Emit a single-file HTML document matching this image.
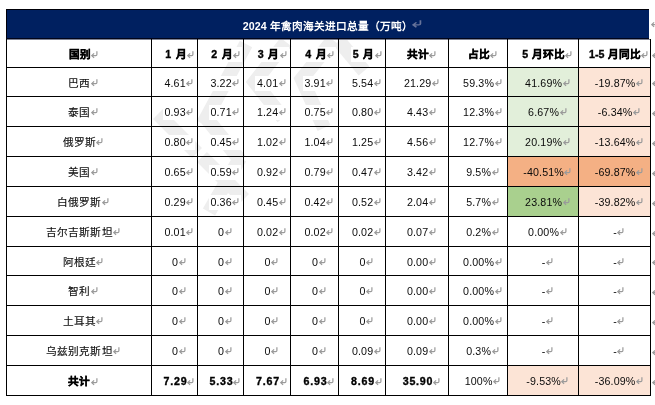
<!DOCTYPE html>
<html lang="zh-CN"><head><meta charset="utf-8"><title>table</title>
<style>
html,body{margin:0;padding:0;}
body{width:655px;height:405px;position:relative;overflow:hidden;background:#fff;font-family:"Liberation Sans",sans-serif;font-size:10.67px;color:#0a0a0a;}
.c{position:absolute;box-sizing:border-box;padding-top:8px;display:flex;align-items:flex-start;justify-content:center;white-space:nowrap;line-height:14px;}
.c span{position:relative;display:inline-block;top:0;left:0.6px;letter-spacing:0.15px;}
.c.w span::before{content:'';position:absolute;left:-1.5px;right:-9.5px;top:0;bottom:-1.3px;background:#fff;z-index:-1;}
.c{z-index:0;}
.b{font-weight:bold;}
.c.b span{top:0;left:1px;letter-spacing:0.8px;word-spacing:1.5px;-webkit-text-stroke:0.35px #000;color:#000;}
.c.b .m{margin-left:-0.3px;top:4px;}
.c.hb{padding-top:6.6px;}
.c.hb span{left:0.5px;letter-spacing:0;word-spacing:0.6px;}
.c.lz span{left:0.3px;letter-spacing:0;}
.c.lz .m{margin-left:0.3px;}
.c0 span{-webkit-text-stroke:0.12px #111;}
.c.b.c0 span{-webkit-text-stroke:0.35px #000;}
.c.mo span{left:1.5px;word-spacing:1.6px;}
.c.hb .m{margin-left:0.3px;top:4px;}
.m{position:absolute;left:100%;top:3px;margin-left:0.5px;}
.c0 span{top:-0.5px;left:0.3px;}
.c0 .m{top:3.5px;margin-left:0.3px}
.re{left:651.5px;margin:0;}
.h{position:absolute;height:1px;background:#000;}
.v{position:absolute;width:1px;background:#000;}
#t{position:absolute;left:6px;top:9px;width:643px;height:30px;background:#002060;border-top:1px solid #000008;border-left:1px solid #000008;border-bottom:1px solid #00041a;box-sizing:border-box;color:#fff;font-weight:bold;display:flex;align-items:center;justify-content:center;white-space:nowrap;}
#t span{position:relative;display:inline-block;top:1px;letter-spacing:0.04px;}
#wm{position:absolute;left:0;top:0;}
</style></head><body>
<!--WM-->
<svg id="wm" width="655" height="405" viewBox="0 0 655 405"><g fill="none" stroke="#eeeeee" stroke-width="14" stroke-linejoin="miter"><path d="M286 42L254.7 82L283 118"/><path d="M333 40L301.7 79L324 128"/><path d="M246 44L203 124"/><path d="M202 157L244 199"/><path d="M240 158L209 212"/><path d="M158 114L197 153"/><path d="M203 114L240 160"/><path d="M339 41L364 71"/></g></svg>
<div id="L" style="position:absolute;left:0;top:0;width:655px;height:405px;will-change:transform;">
<div class="c b c0 hb w" style="left:7px;top:40px;width:144px;height:27px;"><span>国别<svg class="m" width="7" height="8" viewBox="0 0 7 8"><path d="M5.9 0.3V3.5Q5.9 4.6 4.8 4.6H0.9M3.1 2.3L0.8 4.6L3.1 6.9" fill="none" stroke="#9a9a9a" stroke-width="1.2"/></svg></span></div>
<div class="c b hb mo w" style="left:152px;top:40px;width:45px;height:27px;"><span>1 月<svg class="m" width="7" height="8" viewBox="0 0 7 8"><path d="M5.9 0.3V3.5Q5.9 4.6 4.8 4.6H0.9M3.1 2.3L0.8 4.6L3.1 6.9" fill="none" stroke="#9a9a9a" stroke-width="1.2"/></svg></span></div>
<div class="c b hb mo w" style="left:198px;top:40px;width:45px;height:27px;"><span>2 月<svg class="m" width="7" height="8" viewBox="0 0 7 8"><path d="M5.9 0.3V3.5Q5.9 4.6 4.8 4.6H0.9M3.1 2.3L0.8 4.6L3.1 6.9" fill="none" stroke="#9a9a9a" stroke-width="1.2"/></svg></span></div>
<div class="c b hb mo w" style="left:244px;top:40px;width:46px;height:27px;"><span>3 月<svg class="m" width="7" height="8" viewBox="0 0 7 8"><path d="M5.9 0.3V3.5Q5.9 4.6 4.8 4.6H0.9M3.1 2.3L0.8 4.6L3.1 6.9" fill="none" stroke="#9a9a9a" stroke-width="1.2"/></svg></span></div>
<div class="c b hb mo w" style="left:291px;top:40px;width:47px;height:27px;"><span>4 月<svg class="m" width="7" height="8" viewBox="0 0 7 8"><path d="M5.9 0.3V3.5Q5.9 4.6 4.8 4.6H0.9M3.1 2.3L0.8 4.6L3.1 6.9" fill="none" stroke="#9a9a9a" stroke-width="1.2"/></svg></span></div>
<div class="c b hb mo w" style="left:339px;top:40px;width:46px;height:27px;"><span>5 月<svg class="m" width="7" height="8" viewBox="0 0 7 8"><path d="M5.9 0.3V3.5Q5.9 4.6 4.8 4.6H0.9M3.1 2.3L0.8 4.6L3.1 6.9" fill="none" stroke="#9a9a9a" stroke-width="1.2"/></svg></span></div>
<div class="c b hb w" style="left:386px;top:40px;width:62px;height:27px;"><span>共计<svg class="m" width="7" height="8" viewBox="0 0 7 8"><path d="M5.9 0.3V3.5Q5.9 4.6 4.8 4.6H0.9M3.1 2.3L0.8 4.6L3.1 6.9" fill="none" stroke="#9a9a9a" stroke-width="1.2"/></svg></span></div>
<div class="c b hb w" style="left:449px;top:40px;width:58px;height:27px;"><span>占比<svg class="m" width="7" height="8" viewBox="0 0 7 8"><path d="M5.9 0.3V3.5Q5.9 4.6 4.8 4.6H0.9M3.1 2.3L0.8 4.6L3.1 6.9" fill="none" stroke="#9a9a9a" stroke-width="1.2"/></svg></span></div>
<div class="c b hb w" style="left:508px;top:40px;width:70px;height:27px;"><span>5 月环比<svg class="m" width="7" height="8" viewBox="0 0 7 8"><path d="M5.9 0.3V3.5Q5.9 4.6 4.8 4.6H0.9M3.1 2.3L0.8 4.6L3.1 6.9" fill="none" stroke="#9a9a9a" stroke-width="1.2"/></svg></span></div>
<div class="c b hb w" style="left:579px;top:40px;width:71px;height:27px;"><span>1-5 月同比<svg class="m" width="7" height="8" viewBox="0 0 7 8"><path d="M5.9 0.3V3.5Q5.9 4.6 4.8 4.6H0.9M3.1 2.3L0.8 4.6L3.1 6.9" fill="none" stroke="#9a9a9a" stroke-width="1.2"/></svg></span></div>
<div class="c c0 w" style="left:7px;top:68px;width:144px;height:28px;"><span>巴西<svg class="m" width="7" height="8" viewBox="0 0 7 8"><path d="M5.9 0.3V3.5Q5.9 4.6 4.8 4.6H0.9M3.1 2.3L0.8 4.6L3.1 6.9" fill="none" stroke="#9a9a9a" stroke-width="1.2"/></svg></span></div>
<div class="c w" style="left:152px;top:68px;width:45px;height:28px;"><span>4.61<svg class="m" width="7" height="8" viewBox="0 0 7 8"><path d="M5.9 0.3V3.5Q5.9 4.6 4.8 4.6H0.9M3.1 2.3L0.8 4.6L3.1 6.9" fill="none" stroke="#9a9a9a" stroke-width="1.2"/></svg></span></div>
<div class="c w" style="left:198px;top:68px;width:45px;height:28px;"><span>3.22<svg class="m" width="7" height="8" viewBox="0 0 7 8"><path d="M5.9 0.3V3.5Q5.9 4.6 4.8 4.6H0.9M3.1 2.3L0.8 4.6L3.1 6.9" fill="none" stroke="#9a9a9a" stroke-width="1.2"/></svg></span></div>
<div class="c w" style="left:244px;top:68px;width:46px;height:28px;"><span>4.01<svg class="m" width="7" height="8" viewBox="0 0 7 8"><path d="M5.9 0.3V3.5Q5.9 4.6 4.8 4.6H0.9M3.1 2.3L0.8 4.6L3.1 6.9" fill="none" stroke="#9a9a9a" stroke-width="1.2"/></svg></span></div>
<div class="c w" style="left:291px;top:68px;width:47px;height:28px;"><span>3.91<svg class="m" width="7" height="8" viewBox="0 0 7 8"><path d="M5.9 0.3V3.5Q5.9 4.6 4.8 4.6H0.9M3.1 2.3L0.8 4.6L3.1 6.9" fill="none" stroke="#9a9a9a" stroke-width="1.2"/></svg></span></div>
<div class="c w" style="left:339px;top:68px;width:46px;height:28px;"><span>5.54<svg class="m" width="7" height="8" viewBox="0 0 7 8"><path d="M5.9 0.3V3.5Q5.9 4.6 4.8 4.6H0.9M3.1 2.3L0.8 4.6L3.1 6.9" fill="none" stroke="#9a9a9a" stroke-width="1.2"/></svg></span></div>
<div class="c w" style="left:386px;top:68px;width:62px;height:28px;"><span>21.29<svg class="m" width="7" height="8" viewBox="0 0 7 8"><path d="M5.9 0.3V3.5Q5.9 4.6 4.8 4.6H0.9M3.1 2.3L0.8 4.6L3.1 6.9" fill="none" stroke="#9a9a9a" stroke-width="1.2"/></svg></span></div>
<div class="c w" style="left:449px;top:68px;width:58px;height:28px;"><span>59.3%<svg class="m" width="7" height="8" viewBox="0 0 7 8"><path d="M5.9 0.3V3.5Q5.9 4.6 4.8 4.6H0.9M3.1 2.3L0.8 4.6L3.1 6.9" fill="none" stroke="#9a9a9a" stroke-width="1.2"/></svg></span></div>
<div class="c" style="left:508px;top:68px;width:70px;height:28px;background:#e2efda;"><span>41.69%<svg class="m" width="7" height="8" viewBox="0 0 7 8"><path d="M5.9 0.3V3.5Q5.9 4.6 4.8 4.6H0.9M3.1 2.3L0.8 4.6L3.1 6.9" fill="none" stroke="#9a9a9a" stroke-width="1.2"/></svg></span></div>
<div class="c" style="left:579px;top:68px;width:71px;height:28px;background:#fce4d6;"><span>-19.87%<svg class="m" width="7" height="8" viewBox="0 0 7 8"><path d="M5.9 0.3V3.5Q5.9 4.6 4.8 4.6H0.9M3.1 2.3L0.8 4.6L3.1 6.9" fill="none" stroke="#9a9a9a" stroke-width="1.2"/></svg></span></div>
<div class="c c0 w" style="left:7px;top:97px;width:144px;height:29px;"><span>泰国<svg class="m" width="7" height="8" viewBox="0 0 7 8"><path d="M5.9 0.3V3.5Q5.9 4.6 4.8 4.6H0.9M3.1 2.3L0.8 4.6L3.1 6.9" fill="none" stroke="#9a9a9a" stroke-width="1.2"/></svg></span></div>
<div class="c w" style="left:152px;top:97px;width:45px;height:29px;"><span>0.93<svg class="m" width="7" height="8" viewBox="0 0 7 8"><path d="M5.9 0.3V3.5Q5.9 4.6 4.8 4.6H0.9M3.1 2.3L0.8 4.6L3.1 6.9" fill="none" stroke="#9a9a9a" stroke-width="1.2"/></svg></span></div>
<div class="c w" style="left:198px;top:97px;width:45px;height:29px;"><span>0.71<svg class="m" width="7" height="8" viewBox="0 0 7 8"><path d="M5.9 0.3V3.5Q5.9 4.6 4.8 4.6H0.9M3.1 2.3L0.8 4.6L3.1 6.9" fill="none" stroke="#9a9a9a" stroke-width="1.2"/></svg></span></div>
<div class="c w" style="left:244px;top:97px;width:46px;height:29px;"><span>1.24<svg class="m" width="7" height="8" viewBox="0 0 7 8"><path d="M5.9 0.3V3.5Q5.9 4.6 4.8 4.6H0.9M3.1 2.3L0.8 4.6L3.1 6.9" fill="none" stroke="#9a9a9a" stroke-width="1.2"/></svg></span></div>
<div class="c w" style="left:291px;top:97px;width:47px;height:29px;"><span>0.75<svg class="m" width="7" height="8" viewBox="0 0 7 8"><path d="M5.9 0.3V3.5Q5.9 4.6 4.8 4.6H0.9M3.1 2.3L0.8 4.6L3.1 6.9" fill="none" stroke="#9a9a9a" stroke-width="1.2"/></svg></span></div>
<div class="c w" style="left:339px;top:97px;width:46px;height:29px;"><span>0.80<svg class="m" width="7" height="8" viewBox="0 0 7 8"><path d="M5.9 0.3V3.5Q5.9 4.6 4.8 4.6H0.9M3.1 2.3L0.8 4.6L3.1 6.9" fill="none" stroke="#9a9a9a" stroke-width="1.2"/></svg></span></div>
<div class="c w" style="left:386px;top:97px;width:62px;height:29px;"><span>4.43<svg class="m" width="7" height="8" viewBox="0 0 7 8"><path d="M5.9 0.3V3.5Q5.9 4.6 4.8 4.6H0.9M3.1 2.3L0.8 4.6L3.1 6.9" fill="none" stroke="#9a9a9a" stroke-width="1.2"/></svg></span></div>
<div class="c w" style="left:449px;top:97px;width:58px;height:29px;"><span>12.3%<svg class="m" width="7" height="8" viewBox="0 0 7 8"><path d="M5.9 0.3V3.5Q5.9 4.6 4.8 4.6H0.9M3.1 2.3L0.8 4.6L3.1 6.9" fill="none" stroke="#9a9a9a" stroke-width="1.2"/></svg></span></div>
<div class="c" style="left:508px;top:97px;width:70px;height:29px;background:#e2efda;"><span>6.67%<svg class="m" width="7" height="8" viewBox="0 0 7 8"><path d="M5.9 0.3V3.5Q5.9 4.6 4.8 4.6H0.9M3.1 2.3L0.8 4.6L3.1 6.9" fill="none" stroke="#9a9a9a" stroke-width="1.2"/></svg></span></div>
<div class="c" style="left:579px;top:97px;width:71px;height:29px;background:#fce4d6;"><span>-6.34%<svg class="m" width="7" height="8" viewBox="0 0 7 8"><path d="M5.9 0.3V3.5Q5.9 4.6 4.8 4.6H0.9M3.1 2.3L0.8 4.6L3.1 6.9" fill="none" stroke="#9a9a9a" stroke-width="1.2"/></svg></span></div>
<div class="c c0 w" style="left:7px;top:127px;width:144px;height:29px;"><span>俄罗斯<svg class="m" width="7" height="8" viewBox="0 0 7 8"><path d="M5.9 0.3V3.5Q5.9 4.6 4.8 4.6H0.9M3.1 2.3L0.8 4.6L3.1 6.9" fill="none" stroke="#9a9a9a" stroke-width="1.2"/></svg></span></div>
<div class="c w" style="left:152px;top:127px;width:45px;height:29px;"><span>0.80<svg class="m" width="7" height="8" viewBox="0 0 7 8"><path d="M5.9 0.3V3.5Q5.9 4.6 4.8 4.6H0.9M3.1 2.3L0.8 4.6L3.1 6.9" fill="none" stroke="#9a9a9a" stroke-width="1.2"/></svg></span></div>
<div class="c w" style="left:198px;top:127px;width:45px;height:29px;"><span>0.45<svg class="m" width="7" height="8" viewBox="0 0 7 8"><path d="M5.9 0.3V3.5Q5.9 4.6 4.8 4.6H0.9M3.1 2.3L0.8 4.6L3.1 6.9" fill="none" stroke="#9a9a9a" stroke-width="1.2"/></svg></span></div>
<div class="c w" style="left:244px;top:127px;width:46px;height:29px;"><span>1.02<svg class="m" width="7" height="8" viewBox="0 0 7 8"><path d="M5.9 0.3V3.5Q5.9 4.6 4.8 4.6H0.9M3.1 2.3L0.8 4.6L3.1 6.9" fill="none" stroke="#9a9a9a" stroke-width="1.2"/></svg></span></div>
<div class="c w" style="left:291px;top:127px;width:47px;height:29px;"><span>1.04<svg class="m" width="7" height="8" viewBox="0 0 7 8"><path d="M5.9 0.3V3.5Q5.9 4.6 4.8 4.6H0.9M3.1 2.3L0.8 4.6L3.1 6.9" fill="none" stroke="#9a9a9a" stroke-width="1.2"/></svg></span></div>
<div class="c w" style="left:339px;top:127px;width:46px;height:29px;"><span>1.25<svg class="m" width="7" height="8" viewBox="0 0 7 8"><path d="M5.9 0.3V3.5Q5.9 4.6 4.8 4.6H0.9M3.1 2.3L0.8 4.6L3.1 6.9" fill="none" stroke="#9a9a9a" stroke-width="1.2"/></svg></span></div>
<div class="c w" style="left:386px;top:127px;width:62px;height:29px;"><span>4.56<svg class="m" width="7" height="8" viewBox="0 0 7 8"><path d="M5.9 0.3V3.5Q5.9 4.6 4.8 4.6H0.9M3.1 2.3L0.8 4.6L3.1 6.9" fill="none" stroke="#9a9a9a" stroke-width="1.2"/></svg></span></div>
<div class="c w" style="left:449px;top:127px;width:58px;height:29px;"><span>12.7%<svg class="m" width="7" height="8" viewBox="0 0 7 8"><path d="M5.9 0.3V3.5Q5.9 4.6 4.8 4.6H0.9M3.1 2.3L0.8 4.6L3.1 6.9" fill="none" stroke="#9a9a9a" stroke-width="1.2"/></svg></span></div>
<div class="c" style="left:508px;top:127px;width:70px;height:29px;background:#e2efda;"><span>20.19%<svg class="m" width="7" height="8" viewBox="0 0 7 8"><path d="M5.9 0.3V3.5Q5.9 4.6 4.8 4.6H0.9M3.1 2.3L0.8 4.6L3.1 6.9" fill="none" stroke="#9a9a9a" stroke-width="1.2"/></svg></span></div>
<div class="c" style="left:579px;top:127px;width:71px;height:29px;background:#fce4d6;"><span>-13.64%<svg class="m" width="7" height="8" viewBox="0 0 7 8"><path d="M5.9 0.3V3.5Q5.9 4.6 4.8 4.6H0.9M3.1 2.3L0.8 4.6L3.1 6.9" fill="none" stroke="#9a9a9a" stroke-width="1.2"/></svg></span></div>
<div class="c c0 w" style="left:7px;top:157px;width:144px;height:29px;"><span>美国<svg class="m" width="7" height="8" viewBox="0 0 7 8"><path d="M5.9 0.3V3.5Q5.9 4.6 4.8 4.6H0.9M3.1 2.3L0.8 4.6L3.1 6.9" fill="none" stroke="#9a9a9a" stroke-width="1.2"/></svg></span></div>
<div class="c w" style="left:152px;top:157px;width:45px;height:29px;"><span>0.65<svg class="m" width="7" height="8" viewBox="0 0 7 8"><path d="M5.9 0.3V3.5Q5.9 4.6 4.8 4.6H0.9M3.1 2.3L0.8 4.6L3.1 6.9" fill="none" stroke="#9a9a9a" stroke-width="1.2"/></svg></span></div>
<div class="c w" style="left:198px;top:157px;width:45px;height:29px;"><span>0.59<svg class="m" width="7" height="8" viewBox="0 0 7 8"><path d="M5.9 0.3V3.5Q5.9 4.6 4.8 4.6H0.9M3.1 2.3L0.8 4.6L3.1 6.9" fill="none" stroke="#9a9a9a" stroke-width="1.2"/></svg></span></div>
<div class="c w" style="left:244px;top:157px;width:46px;height:29px;"><span>0.92<svg class="m" width="7" height="8" viewBox="0 0 7 8"><path d="M5.9 0.3V3.5Q5.9 4.6 4.8 4.6H0.9M3.1 2.3L0.8 4.6L3.1 6.9" fill="none" stroke="#9a9a9a" stroke-width="1.2"/></svg></span></div>
<div class="c w" style="left:291px;top:157px;width:47px;height:29px;"><span>0.79<svg class="m" width="7" height="8" viewBox="0 0 7 8"><path d="M5.9 0.3V3.5Q5.9 4.6 4.8 4.6H0.9M3.1 2.3L0.8 4.6L3.1 6.9" fill="none" stroke="#9a9a9a" stroke-width="1.2"/></svg></span></div>
<div class="c w" style="left:339px;top:157px;width:46px;height:29px;"><span>0.47<svg class="m" width="7" height="8" viewBox="0 0 7 8"><path d="M5.9 0.3V3.5Q5.9 4.6 4.8 4.6H0.9M3.1 2.3L0.8 4.6L3.1 6.9" fill="none" stroke="#9a9a9a" stroke-width="1.2"/></svg></span></div>
<div class="c w" style="left:386px;top:157px;width:62px;height:29px;"><span>3.42<svg class="m" width="7" height="8" viewBox="0 0 7 8"><path d="M5.9 0.3V3.5Q5.9 4.6 4.8 4.6H0.9M3.1 2.3L0.8 4.6L3.1 6.9" fill="none" stroke="#9a9a9a" stroke-width="1.2"/></svg></span></div>
<div class="c w" style="left:449px;top:157px;width:58px;height:29px;"><span>9.5%<svg class="m" width="7" height="8" viewBox="0 0 7 8"><path d="M5.9 0.3V3.5Q5.9 4.6 4.8 4.6H0.9M3.1 2.3L0.8 4.6L3.1 6.9" fill="none" stroke="#9a9a9a" stroke-width="1.2"/></svg></span></div>
<div class="c" style="left:508px;top:157px;width:70px;height:29px;background:#f4b084;"><span>-40.51%<svg class="m" width="7" height="8" viewBox="0 0 7 8"><path d="M5.9 0.3V3.5Q5.9 4.6 4.8 4.6H0.9M3.1 2.3L0.8 4.6L3.1 6.9" fill="none" stroke="#9a9a9a" stroke-width="1.2"/></svg></span></div>
<div class="c" style="left:579px;top:157px;width:71px;height:29px;background:#f4b084;"><span>-69.87%<svg class="m" width="7" height="8" viewBox="0 0 7 8"><path d="M5.9 0.3V3.5Q5.9 4.6 4.8 4.6H0.9M3.1 2.3L0.8 4.6L3.1 6.9" fill="none" stroke="#9a9a9a" stroke-width="1.2"/></svg></span></div>
<div class="c c0 w" style="left:7px;top:187px;width:144px;height:29px;"><span>白俄罗斯<svg class="m" width="7" height="8" viewBox="0 0 7 8"><path d="M5.9 0.3V3.5Q5.9 4.6 4.8 4.6H0.9M3.1 2.3L0.8 4.6L3.1 6.9" fill="none" stroke="#9a9a9a" stroke-width="1.2"/></svg></span></div>
<div class="c w" style="left:152px;top:187px;width:45px;height:29px;"><span>0.29<svg class="m" width="7" height="8" viewBox="0 0 7 8"><path d="M5.9 0.3V3.5Q5.9 4.6 4.8 4.6H0.9M3.1 2.3L0.8 4.6L3.1 6.9" fill="none" stroke="#9a9a9a" stroke-width="1.2"/></svg></span></div>
<div class="c w" style="left:198px;top:187px;width:45px;height:29px;"><span>0.36<svg class="m" width="7" height="8" viewBox="0 0 7 8"><path d="M5.9 0.3V3.5Q5.9 4.6 4.8 4.6H0.9M3.1 2.3L0.8 4.6L3.1 6.9" fill="none" stroke="#9a9a9a" stroke-width="1.2"/></svg></span></div>
<div class="c w" style="left:244px;top:187px;width:46px;height:29px;"><span>0.45<svg class="m" width="7" height="8" viewBox="0 0 7 8"><path d="M5.9 0.3V3.5Q5.9 4.6 4.8 4.6H0.9M3.1 2.3L0.8 4.6L3.1 6.9" fill="none" stroke="#9a9a9a" stroke-width="1.2"/></svg></span></div>
<div class="c w" style="left:291px;top:187px;width:47px;height:29px;"><span>0.42<svg class="m" width="7" height="8" viewBox="0 0 7 8"><path d="M5.9 0.3V3.5Q5.9 4.6 4.8 4.6H0.9M3.1 2.3L0.8 4.6L3.1 6.9" fill="none" stroke="#9a9a9a" stroke-width="1.2"/></svg></span></div>
<div class="c w" style="left:339px;top:187px;width:46px;height:29px;"><span>0.52<svg class="m" width="7" height="8" viewBox="0 0 7 8"><path d="M5.9 0.3V3.5Q5.9 4.6 4.8 4.6H0.9M3.1 2.3L0.8 4.6L3.1 6.9" fill="none" stroke="#9a9a9a" stroke-width="1.2"/></svg></span></div>
<div class="c w" style="left:386px;top:187px;width:62px;height:29px;"><span>2.04<svg class="m" width="7" height="8" viewBox="0 0 7 8"><path d="M5.9 0.3V3.5Q5.9 4.6 4.8 4.6H0.9M3.1 2.3L0.8 4.6L3.1 6.9" fill="none" stroke="#9a9a9a" stroke-width="1.2"/></svg></span></div>
<div class="c w" style="left:449px;top:187px;width:58px;height:29px;"><span>5.7%<svg class="m" width="7" height="8" viewBox="0 0 7 8"><path d="M5.9 0.3V3.5Q5.9 4.6 4.8 4.6H0.9M3.1 2.3L0.8 4.6L3.1 6.9" fill="none" stroke="#9a9a9a" stroke-width="1.2"/></svg></span></div>
<div class="c" style="left:508px;top:187px;width:70px;height:29px;background:#a9d08e;"><span>23.81%<svg class="m" width="7" height="8" viewBox="0 0 7 8"><path d="M5.9 0.3V3.5Q5.9 4.6 4.8 4.6H0.9M3.1 2.3L0.8 4.6L3.1 6.9" fill="none" stroke="#9a9a9a" stroke-width="1.2"/></svg></span></div>
<div class="c" style="left:579px;top:187px;width:71px;height:29px;background:#fce4d6;"><span>-39.82%<svg class="m" width="7" height="8" viewBox="0 0 7 8"><path d="M5.9 0.3V3.5Q5.9 4.6 4.8 4.6H0.9M3.1 2.3L0.8 4.6L3.1 6.9" fill="none" stroke="#9a9a9a" stroke-width="1.2"/></svg></span></div>
<div class="c c0 w" style="left:7px;top:217px;width:144px;height:29px;"><span>吉尔吉斯斯坦<svg class="m" width="7" height="8" viewBox="0 0 7 8"><path d="M5.9 0.3V3.5Q5.9 4.6 4.8 4.6H0.9M3.1 2.3L0.8 4.6L3.1 6.9" fill="none" stroke="#9a9a9a" stroke-width="1.2"/></svg></span></div>
<div class="c w" style="left:152px;top:217px;width:45px;height:29px;"><span>0.01<svg class="m" width="7" height="8" viewBox="0 0 7 8"><path d="M5.9 0.3V3.5Q5.9 4.6 4.8 4.6H0.9M3.1 2.3L0.8 4.6L3.1 6.9" fill="none" stroke="#9a9a9a" stroke-width="1.2"/></svg></span></div>
<div class="c w" style="left:198px;top:217px;width:45px;height:29px;"><span>0<svg class="m" width="7" height="8" viewBox="0 0 7 8"><path d="M5.9 0.3V3.5Q5.9 4.6 4.8 4.6H0.9M3.1 2.3L0.8 4.6L3.1 6.9" fill="none" stroke="#9a9a9a" stroke-width="1.2"/></svg></span></div>
<div class="c w" style="left:244px;top:217px;width:46px;height:29px;"><span>0.02<svg class="m" width="7" height="8" viewBox="0 0 7 8"><path d="M5.9 0.3V3.5Q5.9 4.6 4.8 4.6H0.9M3.1 2.3L0.8 4.6L3.1 6.9" fill="none" stroke="#9a9a9a" stroke-width="1.2"/></svg></span></div>
<div class="c w" style="left:291px;top:217px;width:47px;height:29px;"><span>0.02<svg class="m" width="7" height="8" viewBox="0 0 7 8"><path d="M5.9 0.3V3.5Q5.9 4.6 4.8 4.6H0.9M3.1 2.3L0.8 4.6L3.1 6.9" fill="none" stroke="#9a9a9a" stroke-width="1.2"/></svg></span></div>
<div class="c w" style="left:339px;top:217px;width:46px;height:29px;"><span>0.02<svg class="m" width="7" height="8" viewBox="0 0 7 8"><path d="M5.9 0.3V3.5Q5.9 4.6 4.8 4.6H0.9M3.1 2.3L0.8 4.6L3.1 6.9" fill="none" stroke="#9a9a9a" stroke-width="1.2"/></svg></span></div>
<div class="c w" style="left:386px;top:217px;width:62px;height:29px;"><span>0.07<svg class="m" width="7" height="8" viewBox="0 0 7 8"><path d="M5.9 0.3V3.5Q5.9 4.6 4.8 4.6H0.9M3.1 2.3L0.8 4.6L3.1 6.9" fill="none" stroke="#9a9a9a" stroke-width="1.2"/></svg></span></div>
<div class="c w" style="left:449px;top:217px;width:58px;height:29px;"><span>0.2%<svg class="m" width="7" height="8" viewBox="0 0 7 8"><path d="M5.9 0.3V3.5Q5.9 4.6 4.8 4.6H0.9M3.1 2.3L0.8 4.6L3.1 6.9" fill="none" stroke="#9a9a9a" stroke-width="1.2"/></svg></span></div>
<div class="c w" style="left:508px;top:217px;width:70px;height:29px;"><span>0.00%<svg class="m" width="7" height="8" viewBox="0 0 7 8"><path d="M5.9 0.3V3.5Q5.9 4.6 4.8 4.6H0.9M3.1 2.3L0.8 4.6L3.1 6.9" fill="none" stroke="#9a9a9a" stroke-width="1.2"/></svg></span></div>
<div class="c w" style="left:579px;top:217px;width:71px;height:29px;"><span>-<svg class="m" width="7" height="8" viewBox="0 0 7 8"><path d="M5.9 0.3V3.5Q5.9 4.6 4.8 4.6H0.9M3.1 2.3L0.8 4.6L3.1 6.9" fill="none" stroke="#9a9a9a" stroke-width="1.2"/></svg></span></div>
<div class="c c0 w" style="left:7px;top:247px;width:144px;height:28px;"><span>阿根廷<svg class="m" width="7" height="8" viewBox="0 0 7 8"><path d="M5.9 0.3V3.5Q5.9 4.6 4.8 4.6H0.9M3.1 2.3L0.8 4.6L3.1 6.9" fill="none" stroke="#9a9a9a" stroke-width="1.2"/></svg></span></div>
<div class="c w" style="left:152px;top:247px;width:45px;height:28px;"><span>0<svg class="m" width="7" height="8" viewBox="0 0 7 8"><path d="M5.9 0.3V3.5Q5.9 4.6 4.8 4.6H0.9M3.1 2.3L0.8 4.6L3.1 6.9" fill="none" stroke="#9a9a9a" stroke-width="1.2"/></svg></span></div>
<div class="c w" style="left:198px;top:247px;width:45px;height:28px;"><span>0<svg class="m" width="7" height="8" viewBox="0 0 7 8"><path d="M5.9 0.3V3.5Q5.9 4.6 4.8 4.6H0.9M3.1 2.3L0.8 4.6L3.1 6.9" fill="none" stroke="#9a9a9a" stroke-width="1.2"/></svg></span></div>
<div class="c w" style="left:244px;top:247px;width:46px;height:28px;"><span>0<svg class="m" width="7" height="8" viewBox="0 0 7 8"><path d="M5.9 0.3V3.5Q5.9 4.6 4.8 4.6H0.9M3.1 2.3L0.8 4.6L3.1 6.9" fill="none" stroke="#9a9a9a" stroke-width="1.2"/></svg></span></div>
<div class="c w" style="left:291px;top:247px;width:47px;height:28px;"><span>0<svg class="m" width="7" height="8" viewBox="0 0 7 8"><path d="M5.9 0.3V3.5Q5.9 4.6 4.8 4.6H0.9M3.1 2.3L0.8 4.6L3.1 6.9" fill="none" stroke="#9a9a9a" stroke-width="1.2"/></svg></span></div>
<div class="c w" style="left:339px;top:247px;width:46px;height:28px;"><span>0<svg class="m" width="7" height="8" viewBox="0 0 7 8"><path d="M5.9 0.3V3.5Q5.9 4.6 4.8 4.6H0.9M3.1 2.3L0.8 4.6L3.1 6.9" fill="none" stroke="#9a9a9a" stroke-width="1.2"/></svg></span></div>
<div class="c w" style="left:386px;top:247px;width:62px;height:28px;"><span>0.00<svg class="m" width="7" height="8" viewBox="0 0 7 8"><path d="M5.9 0.3V3.5Q5.9 4.6 4.8 4.6H0.9M3.1 2.3L0.8 4.6L3.1 6.9" fill="none" stroke="#9a9a9a" stroke-width="1.2"/></svg></span></div>
<div class="c w" style="left:449px;top:247px;width:58px;height:28px;"><span>0.00%<svg class="m" width="7" height="8" viewBox="0 0 7 8"><path d="M5.9 0.3V3.5Q5.9 4.6 4.8 4.6H0.9M3.1 2.3L0.8 4.6L3.1 6.9" fill="none" stroke="#9a9a9a" stroke-width="1.2"/></svg></span></div>
<div class="c w" style="left:508px;top:247px;width:70px;height:28px;"><span>-<svg class="m" width="7" height="8" viewBox="0 0 7 8"><path d="M5.9 0.3V3.5Q5.9 4.6 4.8 4.6H0.9M3.1 2.3L0.8 4.6L3.1 6.9" fill="none" stroke="#9a9a9a" stroke-width="1.2"/></svg></span></div>
<div class="c w" style="left:579px;top:247px;width:71px;height:28px;"><span>-<svg class="m" width="7" height="8" viewBox="0 0 7 8"><path d="M5.9 0.3V3.5Q5.9 4.6 4.8 4.6H0.9M3.1 2.3L0.8 4.6L3.1 6.9" fill="none" stroke="#9a9a9a" stroke-width="1.2"/></svg></span></div>
<div class="c c0 w" style="left:7px;top:276px;width:144px;height:29px;"><span>智利<svg class="m" width="7" height="8" viewBox="0 0 7 8"><path d="M5.9 0.3V3.5Q5.9 4.6 4.8 4.6H0.9M3.1 2.3L0.8 4.6L3.1 6.9" fill="none" stroke="#9a9a9a" stroke-width="1.2"/></svg></span></div>
<div class="c w" style="left:152px;top:276px;width:45px;height:29px;"><span>0<svg class="m" width="7" height="8" viewBox="0 0 7 8"><path d="M5.9 0.3V3.5Q5.9 4.6 4.8 4.6H0.9M3.1 2.3L0.8 4.6L3.1 6.9" fill="none" stroke="#9a9a9a" stroke-width="1.2"/></svg></span></div>
<div class="c w" style="left:198px;top:276px;width:45px;height:29px;"><span>0<svg class="m" width="7" height="8" viewBox="0 0 7 8"><path d="M5.9 0.3V3.5Q5.9 4.6 4.8 4.6H0.9M3.1 2.3L0.8 4.6L3.1 6.9" fill="none" stroke="#9a9a9a" stroke-width="1.2"/></svg></span></div>
<div class="c w" style="left:244px;top:276px;width:46px;height:29px;"><span>0<svg class="m" width="7" height="8" viewBox="0 0 7 8"><path d="M5.9 0.3V3.5Q5.9 4.6 4.8 4.6H0.9M3.1 2.3L0.8 4.6L3.1 6.9" fill="none" stroke="#9a9a9a" stroke-width="1.2"/></svg></span></div>
<div class="c w" style="left:291px;top:276px;width:47px;height:29px;"><span>0<svg class="m" width="7" height="8" viewBox="0 0 7 8"><path d="M5.9 0.3V3.5Q5.9 4.6 4.8 4.6H0.9M3.1 2.3L0.8 4.6L3.1 6.9" fill="none" stroke="#9a9a9a" stroke-width="1.2"/></svg></span></div>
<div class="c w" style="left:339px;top:276px;width:46px;height:29px;"><span>0<svg class="m" width="7" height="8" viewBox="0 0 7 8"><path d="M5.9 0.3V3.5Q5.9 4.6 4.8 4.6H0.9M3.1 2.3L0.8 4.6L3.1 6.9" fill="none" stroke="#9a9a9a" stroke-width="1.2"/></svg></span></div>
<div class="c w" style="left:386px;top:276px;width:62px;height:29px;"><span>0.00<svg class="m" width="7" height="8" viewBox="0 0 7 8"><path d="M5.9 0.3V3.5Q5.9 4.6 4.8 4.6H0.9M3.1 2.3L0.8 4.6L3.1 6.9" fill="none" stroke="#9a9a9a" stroke-width="1.2"/></svg></span></div>
<div class="c w" style="left:449px;top:276px;width:58px;height:29px;"><span>0.00%<svg class="m" width="7" height="8" viewBox="0 0 7 8"><path d="M5.9 0.3V3.5Q5.9 4.6 4.8 4.6H0.9M3.1 2.3L0.8 4.6L3.1 6.9" fill="none" stroke="#9a9a9a" stroke-width="1.2"/></svg></span></div>
<div class="c w" style="left:508px;top:276px;width:70px;height:29px;"><span>-<svg class="m" width="7" height="8" viewBox="0 0 7 8"><path d="M5.9 0.3V3.5Q5.9 4.6 4.8 4.6H0.9M3.1 2.3L0.8 4.6L3.1 6.9" fill="none" stroke="#9a9a9a" stroke-width="1.2"/></svg></span></div>
<div class="c w" style="left:579px;top:276px;width:71px;height:29px;"><span>-<svg class="m" width="7" height="8" viewBox="0 0 7 8"><path d="M5.9 0.3V3.5Q5.9 4.6 4.8 4.6H0.9M3.1 2.3L0.8 4.6L3.1 6.9" fill="none" stroke="#9a9a9a" stroke-width="1.2"/></svg></span></div>
<div class="c c0 w" style="left:7px;top:306px;width:144px;height:29px;"><span>土耳其<svg class="m" width="7" height="8" viewBox="0 0 7 8"><path d="M5.9 0.3V3.5Q5.9 4.6 4.8 4.6H0.9M3.1 2.3L0.8 4.6L3.1 6.9" fill="none" stroke="#9a9a9a" stroke-width="1.2"/></svg></span></div>
<div class="c w" style="left:152px;top:306px;width:45px;height:29px;"><span>0<svg class="m" width="7" height="8" viewBox="0 0 7 8"><path d="M5.9 0.3V3.5Q5.9 4.6 4.8 4.6H0.9M3.1 2.3L0.8 4.6L3.1 6.9" fill="none" stroke="#9a9a9a" stroke-width="1.2"/></svg></span></div>
<div class="c w" style="left:198px;top:306px;width:45px;height:29px;"><span>0<svg class="m" width="7" height="8" viewBox="0 0 7 8"><path d="M5.9 0.3V3.5Q5.9 4.6 4.8 4.6H0.9M3.1 2.3L0.8 4.6L3.1 6.9" fill="none" stroke="#9a9a9a" stroke-width="1.2"/></svg></span></div>
<div class="c w" style="left:244px;top:306px;width:46px;height:29px;"><span>0<svg class="m" width="7" height="8" viewBox="0 0 7 8"><path d="M5.9 0.3V3.5Q5.9 4.6 4.8 4.6H0.9M3.1 2.3L0.8 4.6L3.1 6.9" fill="none" stroke="#9a9a9a" stroke-width="1.2"/></svg></span></div>
<div class="c w" style="left:291px;top:306px;width:47px;height:29px;"><span>0<svg class="m" width="7" height="8" viewBox="0 0 7 8"><path d="M5.9 0.3V3.5Q5.9 4.6 4.8 4.6H0.9M3.1 2.3L0.8 4.6L3.1 6.9" fill="none" stroke="#9a9a9a" stroke-width="1.2"/></svg></span></div>
<div class="c w" style="left:339px;top:306px;width:46px;height:29px;"><span>0<svg class="m" width="7" height="8" viewBox="0 0 7 8"><path d="M5.9 0.3V3.5Q5.9 4.6 4.8 4.6H0.9M3.1 2.3L0.8 4.6L3.1 6.9" fill="none" stroke="#9a9a9a" stroke-width="1.2"/></svg></span></div>
<div class="c w" style="left:386px;top:306px;width:62px;height:29px;"><span>0.00<svg class="m" width="7" height="8" viewBox="0 0 7 8"><path d="M5.9 0.3V3.5Q5.9 4.6 4.8 4.6H0.9M3.1 2.3L0.8 4.6L3.1 6.9" fill="none" stroke="#9a9a9a" stroke-width="1.2"/></svg></span></div>
<div class="c w" style="left:449px;top:306px;width:58px;height:29px;"><span>0.00%<svg class="m" width="7" height="8" viewBox="0 0 7 8"><path d="M5.9 0.3V3.5Q5.9 4.6 4.8 4.6H0.9M3.1 2.3L0.8 4.6L3.1 6.9" fill="none" stroke="#9a9a9a" stroke-width="1.2"/></svg></span></div>
<div class="c w" style="left:508px;top:306px;width:70px;height:29px;"><span>-<svg class="m" width="7" height="8" viewBox="0 0 7 8"><path d="M5.9 0.3V3.5Q5.9 4.6 4.8 4.6H0.9M3.1 2.3L0.8 4.6L3.1 6.9" fill="none" stroke="#9a9a9a" stroke-width="1.2"/></svg></span></div>
<div class="c w" style="left:579px;top:306px;width:71px;height:29px;"><span>-<svg class="m" width="7" height="8" viewBox="0 0 7 8"><path d="M5.9 0.3V3.5Q5.9 4.6 4.8 4.6H0.9M3.1 2.3L0.8 4.6L3.1 6.9" fill="none" stroke="#9a9a9a" stroke-width="1.2"/></svg></span></div>
<div class="c c0 w" style="left:7px;top:336px;width:144px;height:29px;"><span>乌兹别克斯坦<svg class="m" width="7" height="8" viewBox="0 0 7 8"><path d="M5.9 0.3V3.5Q5.9 4.6 4.8 4.6H0.9M3.1 2.3L0.8 4.6L3.1 6.9" fill="none" stroke="#9a9a9a" stroke-width="1.2"/></svg></span></div>
<div class="c w" style="left:152px;top:336px;width:45px;height:29px;"><span>0<svg class="m" width="7" height="8" viewBox="0 0 7 8"><path d="M5.9 0.3V3.5Q5.9 4.6 4.8 4.6H0.9M3.1 2.3L0.8 4.6L3.1 6.9" fill="none" stroke="#9a9a9a" stroke-width="1.2"/></svg></span></div>
<div class="c w" style="left:198px;top:336px;width:45px;height:29px;"><span>0<svg class="m" width="7" height="8" viewBox="0 0 7 8"><path d="M5.9 0.3V3.5Q5.9 4.6 4.8 4.6H0.9M3.1 2.3L0.8 4.6L3.1 6.9" fill="none" stroke="#9a9a9a" stroke-width="1.2"/></svg></span></div>
<div class="c w" style="left:244px;top:336px;width:46px;height:29px;"><span>0<svg class="m" width="7" height="8" viewBox="0 0 7 8"><path d="M5.9 0.3V3.5Q5.9 4.6 4.8 4.6H0.9M3.1 2.3L0.8 4.6L3.1 6.9" fill="none" stroke="#9a9a9a" stroke-width="1.2"/></svg></span></div>
<div class="c w" style="left:291px;top:336px;width:47px;height:29px;"><span>0<svg class="m" width="7" height="8" viewBox="0 0 7 8"><path d="M5.9 0.3V3.5Q5.9 4.6 4.8 4.6H0.9M3.1 2.3L0.8 4.6L3.1 6.9" fill="none" stroke="#9a9a9a" stroke-width="1.2"/></svg></span></div>
<div class="c w" style="left:339px;top:336px;width:46px;height:29px;"><span>0.09<svg class="m" width="7" height="8" viewBox="0 0 7 8"><path d="M5.9 0.3V3.5Q5.9 4.6 4.8 4.6H0.9M3.1 2.3L0.8 4.6L3.1 6.9" fill="none" stroke="#9a9a9a" stroke-width="1.2"/></svg></span></div>
<div class="c w" style="left:386px;top:336px;width:62px;height:29px;"><span>0.09<svg class="m" width="7" height="8" viewBox="0 0 7 8"><path d="M5.9 0.3V3.5Q5.9 4.6 4.8 4.6H0.9M3.1 2.3L0.8 4.6L3.1 6.9" fill="none" stroke="#9a9a9a" stroke-width="1.2"/></svg></span></div>
<div class="c w" style="left:449px;top:336px;width:58px;height:29px;"><span>0.3%<svg class="m" width="7" height="8" viewBox="0 0 7 8"><path d="M5.9 0.3V3.5Q5.9 4.6 4.8 4.6H0.9M3.1 2.3L0.8 4.6L3.1 6.9" fill="none" stroke="#9a9a9a" stroke-width="1.2"/></svg></span></div>
<div class="c w" style="left:508px;top:336px;width:70px;height:29px;"><span>-<svg class="m" width="7" height="8" viewBox="0 0 7 8"><path d="M5.9 0.3V3.5Q5.9 4.6 4.8 4.6H0.9M3.1 2.3L0.8 4.6L3.1 6.9" fill="none" stroke="#9a9a9a" stroke-width="1.2"/></svg></span></div>
<div class="c w" style="left:579px;top:336px;width:71px;height:29px;"><span>-<svg class="m" width="7" height="8" viewBox="0 0 7 8"><path d="M5.9 0.3V3.5Q5.9 4.6 4.8 4.6H0.9M3.1 2.3L0.8 4.6L3.1 6.9" fill="none" stroke="#9a9a9a" stroke-width="1.2"/></svg></span></div>
<div class="c b c0 lz w" style="left:7px;top:366px;width:144px;height:29px;"><span>共计<svg class="m" width="7" height="8" viewBox="0 0 7 8"><path d="M5.9 0.3V3.5Q5.9 4.6 4.8 4.6H0.9M3.1 2.3L0.8 4.6L3.1 6.9" fill="none" stroke="#9a9a9a" stroke-width="1.2"/></svg></span></div>
<div class="c b w" style="left:152px;top:366px;width:45px;height:29px;"><span>7.29<svg class="m" width="7" height="8" viewBox="0 0 7 8"><path d="M5.9 0.3V3.5Q5.9 4.6 4.8 4.6H0.9M3.1 2.3L0.8 4.6L3.1 6.9" fill="none" stroke="#9a9a9a" stroke-width="1.2"/></svg></span></div>
<div class="c b w" style="left:198px;top:366px;width:45px;height:29px;"><span>5.33<svg class="m" width="7" height="8" viewBox="0 0 7 8"><path d="M5.9 0.3V3.5Q5.9 4.6 4.8 4.6H0.9M3.1 2.3L0.8 4.6L3.1 6.9" fill="none" stroke="#9a9a9a" stroke-width="1.2"/></svg></span></div>
<div class="c b w" style="left:244px;top:366px;width:46px;height:29px;"><span>7.67<svg class="m" width="7" height="8" viewBox="0 0 7 8"><path d="M5.9 0.3V3.5Q5.9 4.6 4.8 4.6H0.9M3.1 2.3L0.8 4.6L3.1 6.9" fill="none" stroke="#9a9a9a" stroke-width="1.2"/></svg></span></div>
<div class="c b w" style="left:291px;top:366px;width:47px;height:29px;"><span>6.93<svg class="m" width="7" height="8" viewBox="0 0 7 8"><path d="M5.9 0.3V3.5Q5.9 4.6 4.8 4.6H0.9M3.1 2.3L0.8 4.6L3.1 6.9" fill="none" stroke="#9a9a9a" stroke-width="1.2"/></svg></span></div>
<div class="c b w" style="left:339px;top:366px;width:46px;height:29px;"><span>8.69<svg class="m" width="7" height="8" viewBox="0 0 7 8"><path d="M5.9 0.3V3.5Q5.9 4.6 4.8 4.6H0.9M3.1 2.3L0.8 4.6L3.1 6.9" fill="none" stroke="#9a9a9a" stroke-width="1.2"/></svg></span></div>
<div class="c b w" style="left:386px;top:366px;width:62px;height:29px;"><span>35.90<svg class="m" width="7" height="8" viewBox="0 0 7 8"><path d="M5.9 0.3V3.5Q5.9 4.6 4.8 4.6H0.9M3.1 2.3L0.8 4.6L3.1 6.9" fill="none" stroke="#9a9a9a" stroke-width="1.2"/></svg></span></div>
<div class="c w" style="left:449px;top:366px;width:58px;height:29px;"><span>100%<svg class="m" width="7" height="8" viewBox="0 0 7 8"><path d="M5.9 0.3V3.5Q5.9 4.6 4.8 4.6H0.9M3.1 2.3L0.8 4.6L3.1 6.9" fill="none" stroke="#9a9a9a" stroke-width="1.2"/></svg></span></div>
<div class="c" style="left:508px;top:366px;width:70px;height:29px;background:#fce4d6;"><span>-9.53%<svg class="m" width="7" height="8" viewBox="0 0 7 8"><path d="M5.9 0.3V3.5Q5.9 4.6 4.8 4.6H0.9M3.1 2.3L0.8 4.6L3.1 6.9" fill="none" stroke="#9a9a9a" stroke-width="1.2"/></svg></span></div>
<div class="c" style="left:579px;top:366px;width:71px;height:29px;background:#fce4d6;"><span>-36.09%<svg class="m" width="7" height="8" viewBox="0 0 7 8"><path d="M5.9 0.3V3.5Q5.9 4.6 4.8 4.6H0.9M3.1 2.3L0.8 4.6L3.1 6.9" fill="none" stroke="#9a9a9a" stroke-width="1.2"/></svg></span></div>
<div class="h" style="left:6px;top:39px;width:644px;background:#7d8192"></div>
<div class="h" style="left:6px;top:67px;width:645px"></div>
<div class="h" style="left:6px;top:96px;width:645px"></div>
<div class="h" style="left:6px;top:126px;width:645px"></div>
<div class="h" style="left:6px;top:156px;width:645px"></div>
<div class="h" style="left:6px;top:186px;width:645px"></div>
<div class="h" style="left:6px;top:216px;width:645px"></div>
<div class="h" style="left:6px;top:246px;width:645px"></div>
<div class="h" style="left:6px;top:275px;width:645px"></div>
<div class="h" style="left:6px;top:305px;width:645px"></div>
<div class="h" style="left:6px;top:335px;width:645px"></div>
<div class="h" style="left:6px;top:365px;width:645px"></div>
<div class="h" style="left:6px;top:395px;width:645px"></div>
<div class="v" style="left:6px;top:39px;height:357px"></div>
<div class="v" style="left:151px;top:39px;height:357px"></div>
<div class="v" style="left:197px;top:39px;height:357px"></div>
<div class="v" style="left:243px;top:39px;height:357px"></div>
<div class="v" style="left:290px;top:39px;height:357px"></div>
<div class="v" style="left:338px;top:39px;height:357px"></div>
<div class="v" style="left:385px;top:39px;height:357px"></div>
<div class="v" style="left:448px;top:39px;height:357px"></div>
<div class="v" style="left:507px;top:39px;height:357px"></div>
<div class="v" style="left:578px;top:39px;height:357px"></div>
<div class="v" style="left:650px;top:39px;height:357px"></div>
<div id="t"><span>2024 年禽肉海关进口总量（万吨）<svg class="m" width="10" height="8.4" preserveAspectRatio="none" style="margin-left:-1.4px;top:2.4px" viewBox="0 0 7 8"><path d="M5.9 0.3V3.5Q5.9 4.6 4.8 4.6H0.9M3.1 2.3L0.8 4.6L3.1 6.9" fill="none" stroke="#66739a" stroke-width="1.2"/></svg></span></div>
<svg style="top:19.5px;left:650.8px" class="m re" width="7" height="8" viewBox="0 0 7 8"><path d="M5.9 0.3V3.5Q5.9 4.6 4.8 4.6H0.9M3.1 2.3L0.8 4.6L3.1 6.9" fill="none" stroke="#9a9a9a" stroke-width="1.2"/></svg><svg style="top:50.5px" class="m re" width="7" height="8" viewBox="0 0 7 8"><path d="M5.9 0.3V3.5Q5.9 4.6 4.8 4.6H0.9M3.1 2.3L0.8 4.6L3.1 6.9" fill="none" stroke="#9a9a9a" stroke-width="1.2"/></svg><svg style="top:79.0px" class="m re" width="7" height="8" viewBox="0 0 7 8"><path d="M5.9 0.3V3.5Q5.9 4.6 4.8 4.6H0.9M3.1 2.3L0.8 4.6L3.1 6.9" fill="none" stroke="#9a9a9a" stroke-width="1.2"/></svg><svg style="top:108.5px" class="m re" width="7" height="8" viewBox="0 0 7 8"><path d="M5.9 0.3V3.5Q5.9 4.6 4.8 4.6H0.9M3.1 2.3L0.8 4.6L3.1 6.9" fill="none" stroke="#9a9a9a" stroke-width="1.2"/></svg><svg style="top:138.5px" class="m re" width="7" height="8" viewBox="0 0 7 8"><path d="M5.9 0.3V3.5Q5.9 4.6 4.8 4.6H0.9M3.1 2.3L0.8 4.6L3.1 6.9" fill="none" stroke="#9a9a9a" stroke-width="1.2"/></svg><svg style="top:168.5px" class="m re" width="7" height="8" viewBox="0 0 7 8"><path d="M5.9 0.3V3.5Q5.9 4.6 4.8 4.6H0.9M3.1 2.3L0.8 4.6L3.1 6.9" fill="none" stroke="#9a9a9a" stroke-width="1.2"/></svg><svg style="top:198.5px" class="m re" width="7" height="8" viewBox="0 0 7 8"><path d="M5.9 0.3V3.5Q5.9 4.6 4.8 4.6H0.9M3.1 2.3L0.8 4.6L3.1 6.9" fill="none" stroke="#9a9a9a" stroke-width="1.2"/></svg><svg style="top:228.5px" class="m re" width="7" height="8" viewBox="0 0 7 8"><path d="M5.9 0.3V3.5Q5.9 4.6 4.8 4.6H0.9M3.1 2.3L0.8 4.6L3.1 6.9" fill="none" stroke="#9a9a9a" stroke-width="1.2"/></svg><svg style="top:258.0px" class="m re" width="7" height="8" viewBox="0 0 7 8"><path d="M5.9 0.3V3.5Q5.9 4.6 4.8 4.6H0.9M3.1 2.3L0.8 4.6L3.1 6.9" fill="none" stroke="#9a9a9a" stroke-width="1.2"/></svg><svg style="top:287.5px" class="m re" width="7" height="8" viewBox="0 0 7 8"><path d="M5.9 0.3V3.5Q5.9 4.6 4.8 4.6H0.9M3.1 2.3L0.8 4.6L3.1 6.9" fill="none" stroke="#9a9a9a" stroke-width="1.2"/></svg><svg style="top:317.5px" class="m re" width="7" height="8" viewBox="0 0 7 8"><path d="M5.9 0.3V3.5Q5.9 4.6 4.8 4.6H0.9M3.1 2.3L0.8 4.6L3.1 6.9" fill="none" stroke="#9a9a9a" stroke-width="1.2"/></svg><svg style="top:347.5px" class="m re" width="7" height="8" viewBox="0 0 7 8"><path d="M5.9 0.3V3.5Q5.9 4.6 4.8 4.6H0.9M3.1 2.3L0.8 4.6L3.1 6.9" fill="none" stroke="#9a9a9a" stroke-width="1.2"/></svg><svg style="top:377.5px" class="m re" width="7" height="8" viewBox="0 0 7 8"><path d="M5.9 0.3V3.5Q5.9 4.6 4.8 4.6H0.9M3.1 2.3L0.8 4.6L3.1 6.9" fill="none" stroke="#9a9a9a" stroke-width="1.2"/></svg><!--ROWEND-->
</div>
</body></html>
